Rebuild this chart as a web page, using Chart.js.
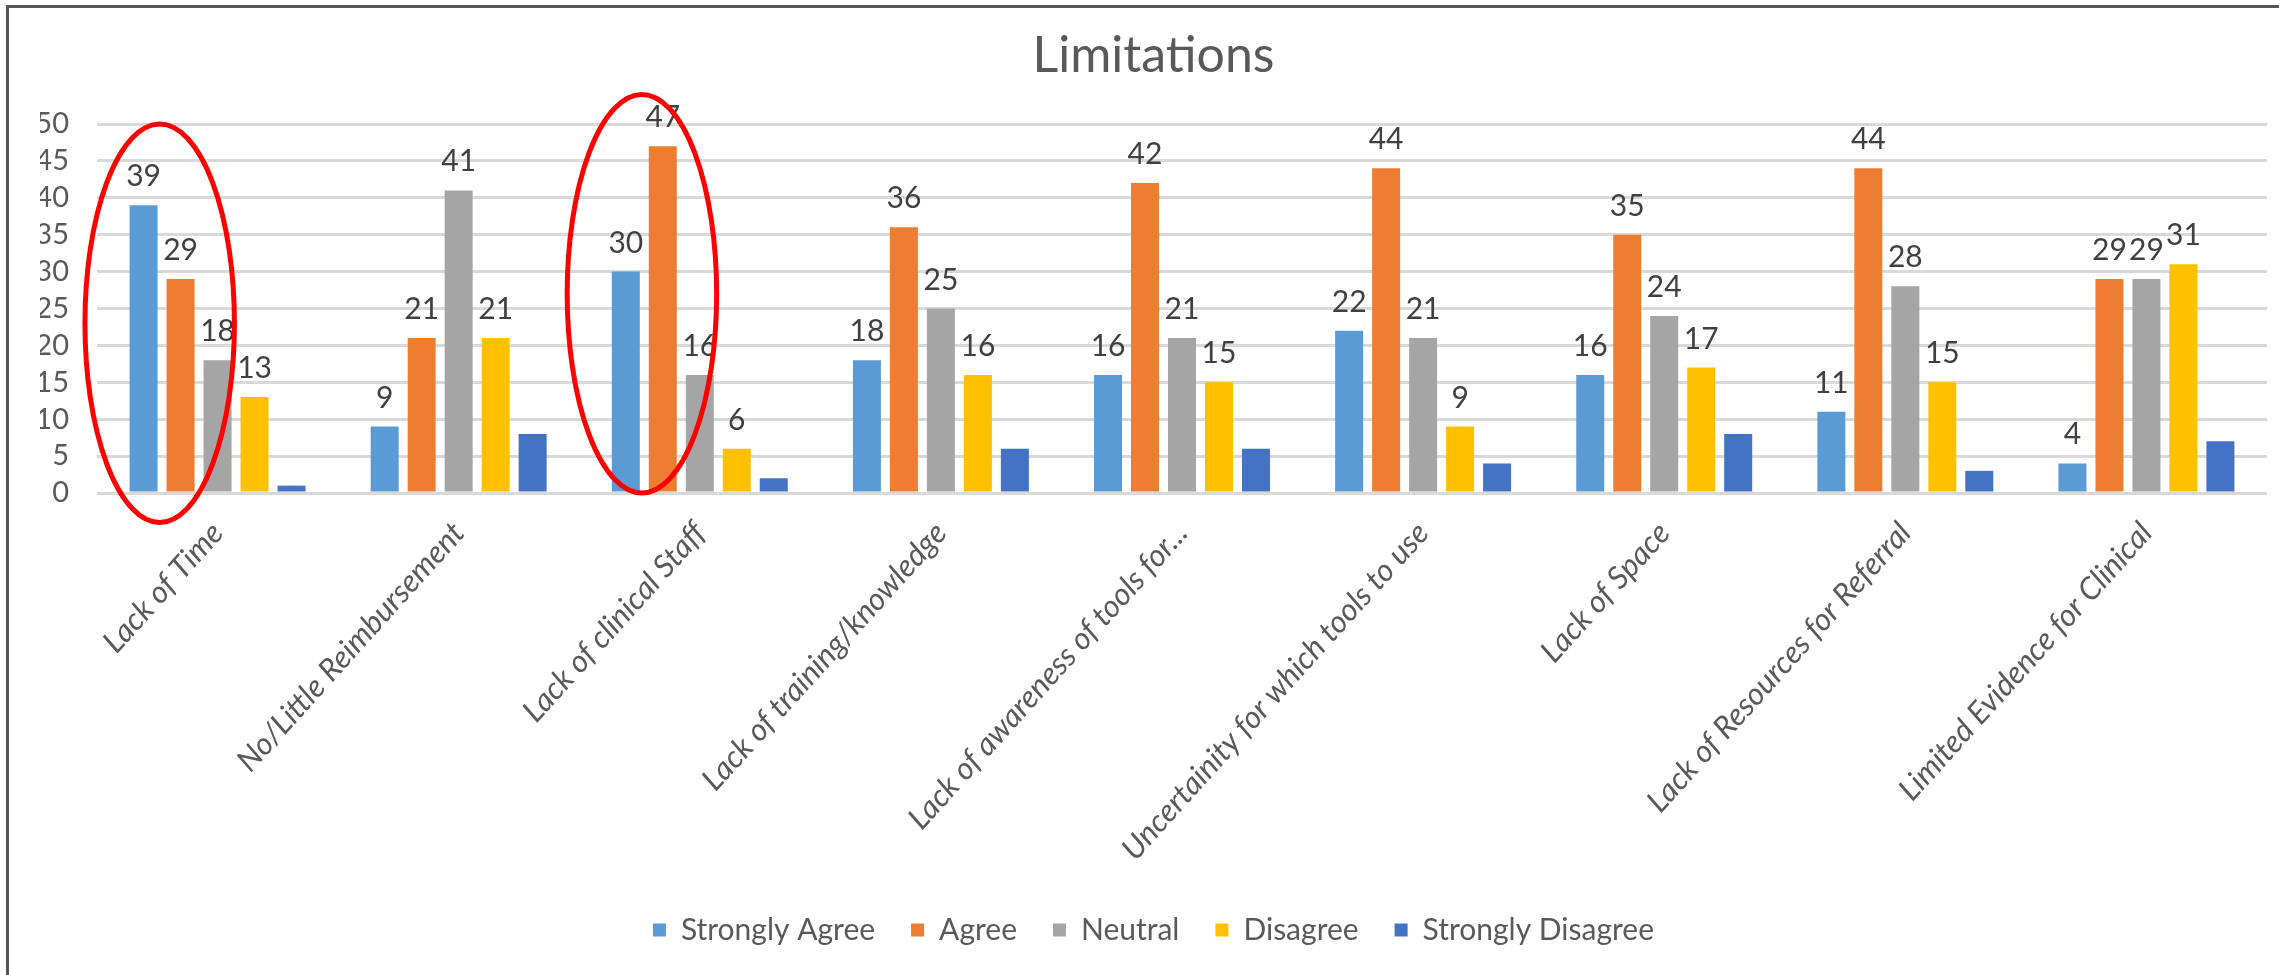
<!DOCTYPE html>
<html>
<head>
<meta charset="utf-8">
<script src="https://cdn.jsdelivr.net/npm/chart.js@4.4.1/dist/chart.umd.min.js"></script>
<style>
  html, body { margin: 0; padding: 0; background: #fff; }
  #wrap { position: absolute; left: 0; top: 0; width: 2279px; height: 975px; }
  #frame { position: absolute; left: 6px; top: 5px; right: 0; bottom: 0;
           border-left: 3px solid #555; border-top: 3px solid #555; pointer-events: none; }
</style>
</head>
<body>
<div id="wrap">
  <canvas id="limitsChart"></canvas>
  <div id="frame"></div>
</div>
<script>
// categories and survey counts
const categories = [
  'Lack of Time',
  'No/Little Reimbursement',
  'Lack of clinical Staff',
  'Lack of training/knowledge',
  'Lack of awareness of tools for...',
  'Uncertainity for which tools to use',
  'Lack of Space',
  'Lack of Resources for Referral',
  'Limited Evidence for Clinical'
];
const stronglyAgree    = [39, 9, 30, 18, 16, 22, 16, 11, 4];
const agree            = [29, 21, 47, 36, 42, 44, 35, 44, 29];
const neutral          = [18, 41, 16, 25, 21, 21, 24, 28, 29];
const disagree         = [13, 21, 6, 16, 15, 9, 17, 15, 31];
const stronglyDisagree = [1, 8, 2, 6, 6, 4, 8, 3, 7];

const yTicks = [0, 5, 10, 15, 20, 25, 30, 35, 40, 45, 50];

// hand-drawn highlight rings: category plus value range they cover
const highlightCats = ['Lack of Time', 'Lack of clinical Staff'];
const highlightTop  = [50, 54];
const highlightLow  = [-4, 0];

const FONT = 'Lato, "Open Sans", sans-serif';

// value labels above every bar except the last series
const barValues = {
  id: 'barValues',
  afterDatasetsDraw(chart) {
    const ctx = chart.ctx;
    ctx.save();
    ctx.font = '30px ' + FONT;
    ctx.fillStyle = '#404040';
    ctx.textAlign = 'center';
    ctx.textBaseline = 'alphabetic';
    chart.data.datasets.forEach((ds, i) => {
      if (ds.noLabels) return;
      chart.getDatasetMeta(i).data.forEach((bar, j) => {
        ctx.fillText(String(ds.data[j]), bar.x, bar.y - 19);
      });
    });
    ctx.restore();
  }
};

// red ellipses drawn over two of the groups
const rings = {
  id: 'rings',
  afterDraw(chart) {
    const ctx = chart.ctx;
    const xs = chart.scales.x, ys = chart.scales.y;
    const catW = xs.width / categories.length;
    ctx.save();
    ctx.strokeStyle = '#ff0000';
    ctx.lineWidth = 5;
    highlightCats.forEach((name, k) => {
      const idx = categories.indexOf(name);
      const cx = xs.getPixelForValue(idx) - 0.24 * catW;
      const yTop = ys.getPixelForValue(highlightTop[k]);
      const yLow = ys.getPixelForValue(highlightLow[k]);
      ctx.beginPath();
      ctx.ellipse(cx, (yTop + yLow) / 2, 0.31 * catW, (yLow - yTop) / 2, 0, 0, Math.PI * 2);
      ctx.stroke();
    });
    ctx.restore();
  }
};

const ctx = document.getElementById('limitsChart').getContext('2d');

new Chart(ctx, {
  type: 'bar',
  data: {
    labels: categories,
    datasets: [
      { label: 'Strongly Agree', data: stronglyAgree, backgroundColor: '#5B9BD5' },
      { label: 'Agree', data: agree, backgroundColor: '#ED7D31' },
      { label: 'Neutral', data: neutral, backgroundColor: '#A5A5A5' },
      { label: 'Disagree', data: disagree, backgroundColor: '#FFC000' },
      { label: 'Strongly Disagree', data: stronglyDisagree, backgroundColor: '#4472C4', noLabels: true }
    ]
  },
  options: {
    responsive: true,
    maintainAspectRatio: false,
    animation: false,
    categoryPercentage: 0.767,
    barPercentage: 0.757,
    layout: { padding: { left: 40, right: 12, top: 0, bottom: 20 } },
    plugins: {
      title: {
        display: true,
        text: 'Limitations',
        color: '#595959',
        font: { family: FONT, size: 50, weight: 'normal' },
        padding: { top: 26, bottom: 38 }
      },
      legend: {
        position: 'bottom',
        labels: {
          color: '#595959',
          font: { family: FONT, size: 30 },
          boxWidth: 13,
          boxHeight: 13,
          padding: 36
        }
      },
      tooltip: { enabled: false }
    },
    scales: {
      x: {
        grid: { display: false, drawTicks: false },
        border: { display: false },
        ticks: {
          autoSkip: false,
          minRotation: 48,
          maxRotation: 48,
          padding: 22,
          color: '#595959',
          font: { family: FONT, size: 31, style: 'italic' }
        },
        afterFit(scale) { scale.height = 386; }
      },
      y: {
        min: 0,
        max: 50,
        afterBuildTicks(scale) { scale.ticks = yTicks.map(v => ({ value: v })); },
        grid: { color: '#d9d9d9', lineWidth: 3, drawTicks: false },
        border: { display: false },
        ticks: {
          autoSkip: false,
          padding: 28,
          color: '#595959',
          font: { family: FONT, size: 29 }
        },
        afterFit(scale) { scale.width = 57; }
      }
    }
  },
  plugins: [barValues, rings]
});
</script>
</body>
</html>
